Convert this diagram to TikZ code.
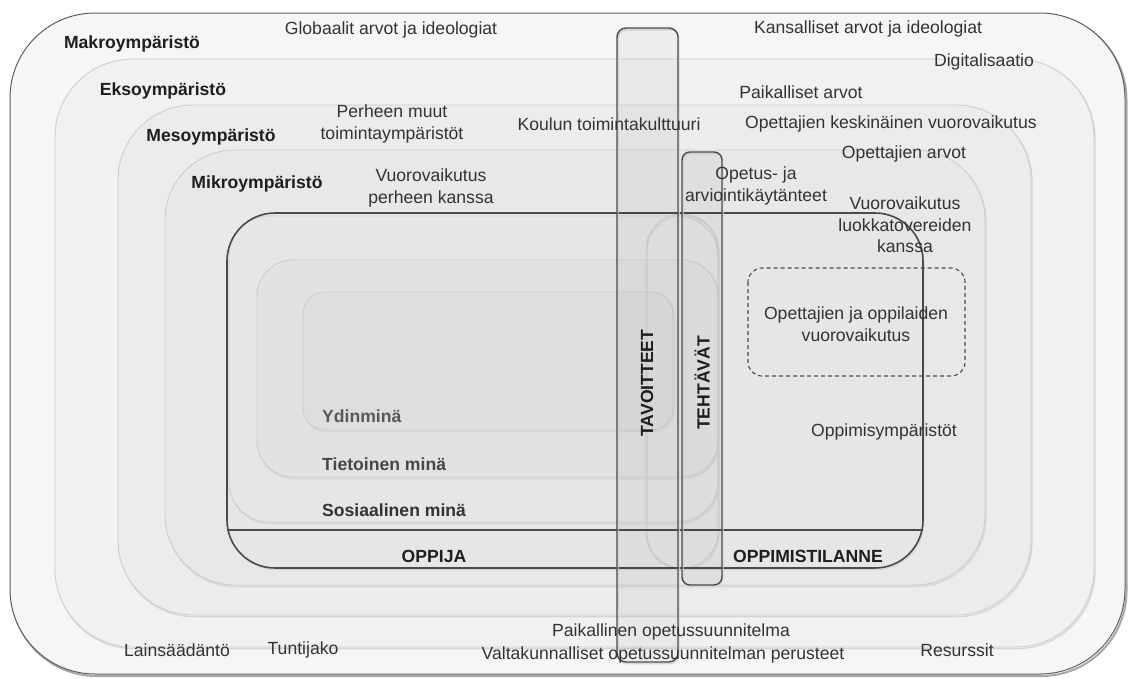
\documentclass[tikz,border=0pt]{standalone}
\usepackage{fontspec}
\setmainfont{Liberation Sans}
\usetikzlibrary{shadows}
\definecolor{makrofill}{HTML}{F6F6F6}
\definecolor{eksofill}{HTML}{F1F1F1}
\definecolor{mesofill}{HTML}{ECECEC}
\definecolor{mikrofill}{HTML}{E8E8E8}
\definecolor{learnerfill}{HTML}{E6E6E6}
\definecolor{tietoinenfill}{HTML}{E2E2E2}
\definecolor{ydinfill}{HTML}{DEDEDE}
\definecolor{makroline}{HTML}{5E5E5E}
\definecolor{envline}{HTML}{CDCDCD}
\definecolor{darkline}{HTML}{4A4A4A}
\definecolor{textgray}{HTML}{333333}
\definecolor{titlegray}{HTML}{1E1E1E}
\tikzset{
    env diagram/.style  = {x=1pt, y=-1pt},
    label text/.style   = {font=\fontsize{17.6}{21.5}\selectfont, text=textgray,
                           align=center, inner sep=0pt},
    env title/.style    = {label text, font=\fontsize{17.6}{21.5}\selectfont\bfseries,
                           text=titlegray},
    self title/.style   = {env title, anchor=west},
    box shadow/.style   = {general shadow={draw=black!16, line width=1.3pt,
                           shadow xshift=1pt, shadow yshift=-1.6pt}},
    env box/.style      = {draw=envline, line width=0.9pt, box shadow},
    outer box/.style    = {draw=makroline, line width=1pt,
                           general shadow={draw=black!35, line width=2pt,
                           shadow xshift=1.5pt, shadow yshift=-2pt}},
    learner box/.style  = {draw=darkline, line width=1.6pt},
    goal bar/.style     = {draw=darkline, line width=1.4pt, fill=black,
                           fill opacity=0.035, box shadow},
    dashed frame/.style = {draw=darkline, line width=1.1pt,
                           dash pattern=on 4pt off 3pt, rounded corners=14pt}
}

\begin{document}
\begin{tikzpicture}[env diagram]
\useasboundingbox (0,0) rectangle (1133,678);

% ================= Nested environment frames =================
\draw[outer box, fill=makrofill, rounded corners=85pt] (10,13) rectangle (1125,674);
\draw[env box, fill=eksofill, rounded corners=78pt] (55,59) rectangle (1094,647);
\draw[env box, fill=mesofill, rounded corners=75pt] (118,105) rectangle (1031,615);
\draw[env box, fill=mikrofill, rounded corners=70pt] (165,150) rectangle (985,585);

% ================= Learner and learning situation =================
\coordinate (learner nw) at (227,213);
\coordinate (situation se) at (923,568);
\coordinate (split west) at (227,530);
\coordinate (split east) at (923,530);
\fill[learnerfill, box shadow, rounded corners=48pt] (learner nw) rectangle (situation se);

\draw[env box, fill=learnerfill, rounded corners=40pt] (229,216) rectangle (718,522);
\draw[env box, fill=tietoinenfill, rounded corners=36pt] (257,260) rectangle (718,477);
\draw[env box, fill=ydinfill, rounded corners=22pt] (303,292) rectangle (673,430);
\draw[env box, rounded corners=36pt] (646,214) rectangle (718,568);

\draw[learner box, rounded corners=48pt] (learner nw) rectangle (situation se);
\draw[learner box] (split west) -- (split east);

% ================= Interaction frame =================
\draw[dashed frame] (748,268) rectangle (965,376);

% ================= Goal and task bars =================
\draw[goal bar, rounded corners=9pt] (617,28) rectangle (678,662);
\draw[goal bar, rounded corners=8pt] (682,152) rectangle (722,585);

% ================= Environment titles =================
\node[env title] (makro) at (132,44) {Makroympäristö};
\node[env title] (ekso) at (163,91) {Eksoympäristö};
\node[env title] (meso) at (211,137) {Mesoympäristö};
\node[env title] (mikro) at (257,184) {Mikroympäristö};

% ================= Environment contents =================
\node[label text] (globaalit) at (391,30) {Globaalit arvot ja ideologiat};
\node[label text] (kansalliset) at (868,29) {Kansalliset arvot ja ideologiat};
\node[label text] (digi) at (984,62) {Digitalisaatio};
\node[label text] (paikalliset) at (801,92) {Paikalliset arvot};
\node[label text] (perhe muut) at (392,124) {Perheen muut\\toimintaympäristöt};
\node[label text] (koulu) at (609,124) {Koulun toimintakulttuuri};
\node[label text] (keskinainen) at (891,124) {Opettajien keskinäinen vuorovaikutus};
\node[label text] (arvot) at (904,154) {Opettajien arvot};
\node[label text] (kaytanteet) at (756,186) {Opetus- ja\\arviointikäytänteet};
\node[label text] (perhe vv) at (431,188) {Vuorovaikutus\\perheen kanssa};
\node[label text] (luokka vv) at (905,225) {Vuorovaikutus\\luokkatovereiden\\kanssa};
\node[label text] (ope vv) at (856,324) {Opettajien ja oppilaiden\\vuorovaikutus};
\node[label text] (ymparistot) at (884,432) {Oppimisympäristöt};

% ================= Self layers =================
\node[self title, text=black!65] (ydin) at (322,416) {Ydinminä};
\node[self title, text=black!72] (tietoinen) at (322,464) {Tietoinen minä};
\node[self title, text=black!80] (sosiaalinen) at (322,510) {Sosiaalinen minä};
\node[env title] (oppija) at (434,556) {OPPIJA};
\node[env title] (tilanne) at (808,556) {OPPIMISTILANNE};
\node[env title, rotate=90] (tavoitteet) at (647,383) {TAVOITTEET};
\node[env title, rotate=90] (tehtavat) at (702,383) {TEHTÄVÄT};

% ================= Steering documents =================
\node[label text] (ops) at (671,632) {Paikallinen opetussuunnitelma};
\node[label text] (vops) at (663,655) {Valtakunnalliset opetussuunnitelman perusteet};
\node[label text] (laki) at (177,650) {Lainsäädäntö};
\node[label text] (tuntijako) at (303,650) {Tuntijako};
\node[label text] (resurssit) at (957,650) {Resurssit};

\end{tikzpicture}
\end{document}
